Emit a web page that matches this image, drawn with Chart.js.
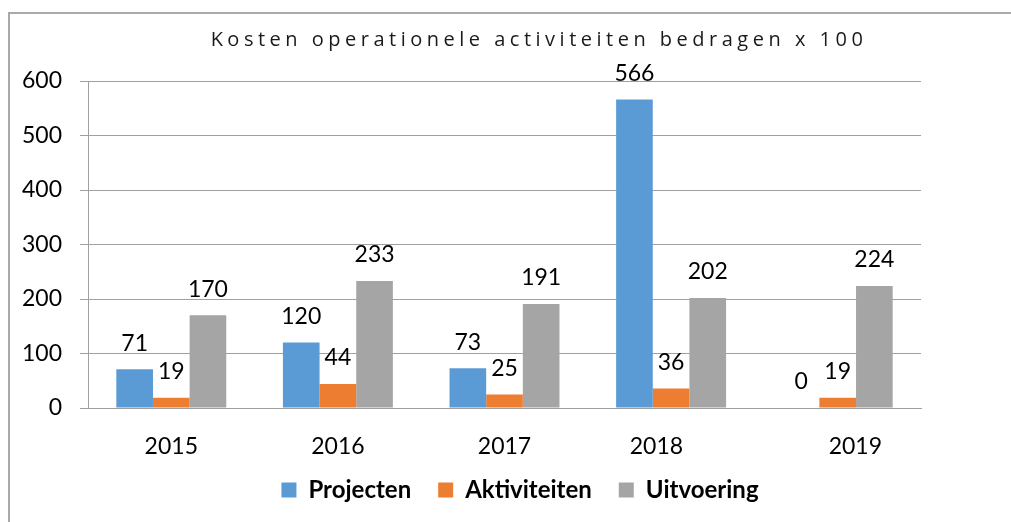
<!DOCTYPE html>
<html>
<head>
<meta charset="utf-8">
<script src="https://cdn.jsdelivr.net/npm/chart.js@4.4.1/dist/chart.umd.min.js"></script>
<style>
  html, body { margin: 0; padding: 0; background: #fff; width: 1011px; height: 522px; overflow: hidden; }
  #frame { position: absolute; left: 8px; top: 12px; width: 1100px; height: 600px;
           border-left: 2px solid #a9a9a9; border-top: 2px solid #a9a9a9; }
  canvas { position: absolute; left: 0; top: 0; }
</style>
</head>
<body>
<div id="frame"></div>
<canvas id="c" width="1011" height="522"></canvas>
<script>
const categories = ['2015', '2016', '2017', '2018', '2019'];
const projecten = [71, 120, 73, 566, 0];
const aktiviteiten = [19, 44, 25, 36, 19];
const uitvoering = [170, 233, 191, 202, 224];
const yTicks = [0, 100, 200, 300, 400, 500, 600];

// visual offset (in spaces) of some category labels, as in the original
const labelPadLeft = [0, 0, 0, 0, 6];
const labelPadRight = [0, 0, 0, 5, 0];

const FONT = 'Lato, "Open Sans", sans-serif';
const TITLE_FONT = '"Open Sans", Lato, sans-serif';

const valueLabels = {
  id: 'valueLabels',
  afterDatasetsDraw(chart) {
    const ctx = chart.ctx;
    ctx.save();
    ctx.font = '23px ' + FONT;
    ctx.fillStyle = '#000';
    ctx.textAlign = 'center';
    ctx.textBaseline = 'middle';
    chart.data.datasets.forEach((ds, di) => {
      const meta = chart.getDatasetMeta(di);
      if (meta.hidden) return;
      meta.data.forEach((el, i) => {
        ctx.fillText(String(ds.data[i]), el.x, el.y - 26);
      });
    });
    ctx.restore();
  }
};

const tweaks = {
  id: 'tweaks',
  beforeDraw(chart) {
    const tb = chart.titleBlock;
    if (tb && !tb._spaced) {
      const orig = tb.draw.bind(tb);
      tb.draw = function () {
        chart.ctx.save();
        chart.ctx.letterSpacing = '4.5px';
        chart.ctx.translate(19, 0);
        orig();
        chart.ctx.restore();
      };
      tb._spaced = true;
    }
    // let the axis labels draw outside their axis boxes without clipping
    if (chart.scales.x) chart.scales.x._computeLabelArea = () => undefined;
    if (chart.scales.y) chart.scales.y._computeLabelArea = () => undefined;
  }
};

new Chart(document.getElementById('c'), {
  type: 'bar',
  data: {
    labels: categories,
    datasets: [
      { label: 'Projecten', data: projecten, backgroundColor: '#5b9bd5', yAxisID: 'y' },
      { label: 'Aktiviteiten', data: aktiviteiten, backgroundColor: '#ed7d31', yAxisID: 'y' },
      { label: 'Uitvoering', data: uitvoering, backgroundColor: '#a5a5a5', yAxisID: 'y' }
    ]
  },
  options: {
    responsive: false,
    animation: false,
    events: [],
    layout: { padding: { left: 29, right: 0, top: 0, bottom: 10 } },
    datasets: { bar: { categoryPercentage: 0.66, barPercentage: 1.0 } },
    scales: {
      x: {
        grid: { display: false, drawTicks: false },
        border: { display: true, color: '#a0a0a0', width: 1 },
        ticks: {
          color: '#000',
          font: { family: FONT, size: 23 },
          padding: 25,
          maxRotation: 0,
          callback: function (v, i) {
            return ' '.repeat(labelPadLeft[i]) + categories[i] + ' '.repeat(labelPadRight[i]);
          }
        },
        afterFit(s) { s.height = 43; }
      },
      y: {
        position: 'left',
        min: 0, max: 600,
        afterBuildTicks(s) { s.ticks = yTicks.map(v => ({ value: v })); },
        grid: { color: '#a0a0a0', lineWidth: 1, tickLength: 8 },
        border: { display: true, color: '#a0a0a0', width: 1 },
        ticks: { color: '#000', font: { family: FONT, size: 23 }, padding: 18 },
        afterFit(s) { s.width = 59; }
      },
      yRight: {
        position: 'right',
        min: 0, max: 600,
        grid: { display: false, drawTicks: false },
        border: { display: false },
        ticks: { display: false },
        afterFit(s) { s.width = 90; }
      }
    },
    plugins: {
      title: {
        display: true,
        text: 'Kosten operationele activiteiten bedragen x 100',
        color: '#1a1a1a',
        font: { family: TITLE_FONT, size: 20, weight: 'normal' },
        padding: { top: 28, bottom: 29 }
      },
      legend: {
        position: 'bottom',
        labels: {
          color: '#000',
          font: { family: FONT, size: 24, weight: 'bold' },
          boxWidth: 15, boxHeight: 15,
          padding: 27
        }
      },
      tooltip: { enabled: false }
    }
  },
  plugins: [valueLabels, tweaks]
});
</script>
</body>
</html>
